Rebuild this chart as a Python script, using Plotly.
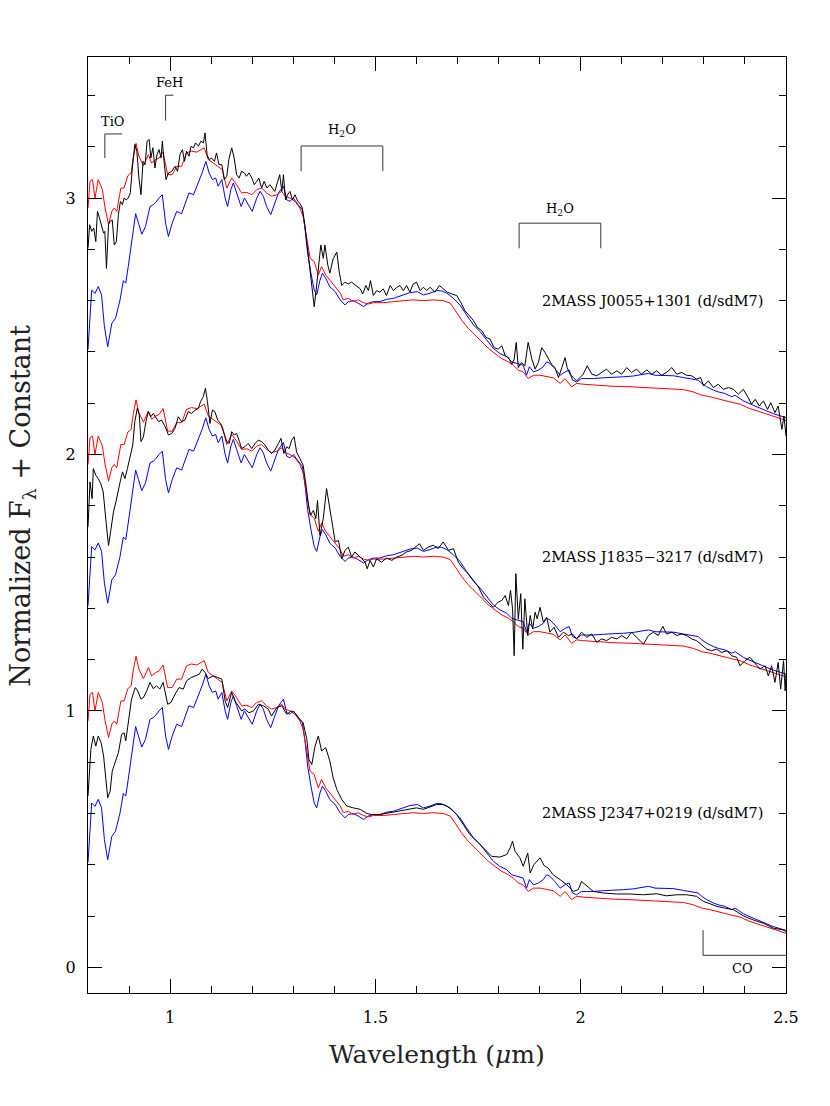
import plotly.graph_objects as go

# ---------------- data ----------------
# Comparison templates (normalized, no offset); the same templates are drawn under every object
BLUE_TEMPLATE = [
    (0.800,0.410),(0.809,0.641),(0.817,0.628),(0.825,0.655),(0.833,0.622),(0.840,0.498),(0.848,0.420),
    (0.858,0.511),(0.867,0.531),(0.878,0.602),(0.886,0.678),(0.892,0.668),(0.898,0.733),(0.906,0.824),
    (0.916,0.939),(0.923,0.902),(0.931,0.859),(0.940,0.889),(0.951,0.967),(0.959,0.974),(0.965,0.983),
    (0.973,1.000),(0.981,1.013),(0.989,0.902),(0.996,0.850),(1.005,0.902),(1.016,0.948),(1.028,0.939),
    (1.036,0.974),(1.046,1.020),(1.057,1.013),(1.069,1.059),(1.078,1.098),(1.087,1.143),(1.095,1.098),
    (1.103,1.072),(1.111,1.078),(1.117,1.046),(1.126,1.072),(1.134,1.000),(1.140,0.967),(1.148,1.033),
    (1.154,1.059),(1.162,1.020),(1.173,0.967),(1.181,1.000),(1.191,0.970),(1.200,0.948),(1.211,1.000),
    (1.219,1.026),(1.227,1.007),(1.235,0.967),(1.245,0.935),(1.254,0.974),(1.264,1.020),(1.276,1.046),
    (1.284,0.993),(1.292,0.987),(1.300,1.000),(1.312,0.974),(1.322,0.954),(1.328,0.889),(1.335,0.785),
    (1.343,0.707),(1.351,0.641),(1.357,0.622),(1.365,0.680),(1.371,0.707),(1.379,0.687),(1.389,0.654),
    (1.402,0.635),(1.414,0.603),(1.426,0.583),(1.434,0.596),(1.446,0.600),(1.458,0.590),(1.471,0.577),
    (1.483,0.590),(1.495,0.596),(1.511,0.596),(1.527,0.605),(1.544,0.609),(1.560,0.618),(1.576,0.626),
    (1.584,0.631),(1.602,0.635),(1.617,0.622),(1.633,0.629),(1.649,0.639),(1.661,0.638),(1.674,0.629),
    (1.690,0.609),(1.706,0.583),(1.722,0.544),(1.739,0.505),(1.755,0.479),(1.771,0.446),(1.787,0.414),
    (1.803,0.394),(1.820,0.381),(1.832,0.361),(1.848,0.355),(1.860,0.348),(1.868,0.309),(1.875,0.342),
    (1.885,0.322),(1.897,0.329),(1.909,0.342),(1.917,0.361),(1.925,0.355),(1.937,0.335),(1.950,0.309),
    (1.962,0.322),(1.972,0.329),(1.980,0.290),(1.990,0.283),(2.002,0.296),(2.015,0.296),(2.031,0.296),
    (2.055,0.299),(2.079,0.300),(2.104,0.303),(2.128,0.306),(2.153,0.312),(2.165,0.316),(2.181,0.309),
    (2.201,0.307),(2.226,0.307),(2.250,0.300),(2.274,0.292),(2.286,0.290),(2.295,0.277),(2.307,0.264),
    (2.323,0.251),(2.335,0.244),(2.351,0.238),(2.368,0.225),(2.376,0.231),(2.396,0.209),(2.420,0.192),
    (2.445,0.175),(2.469,0.159),(2.500,0.144),
]

RED_TEMPLATE = [
    (0.800,0.961),(0.805,1.065),(0.811,1.072),(0.817,1.000),(0.825,1.072),(0.835,1.033),(0.841,0.967),
    (0.850,0.896),(0.858,0.948),(0.864,0.961),(0.870,0.948),(0.880,1.039),(0.888,1.039),(0.897,1.087),
    (0.905,1.098),(0.910,1.156),(0.917,1.213),(0.924,1.163),(0.935,1.126),(0.947,1.169),(0.955,1.137),
    (0.965,1.150),(0.973,1.156),(0.983,1.179),(0.994,1.091),(1.005,1.091),(1.016,1.124),(1.028,1.124),
    (1.040,1.176),(1.052,1.183),(1.065,1.179),(1.073,1.186),(1.083,1.196),(1.093,1.150),(1.105,1.137),
    (1.117,1.124),(1.127,1.111),(1.138,1.039),(1.150,1.078),(1.162,1.052),(1.174,1.020),(1.187,1.022),
    (1.199,1.013),(1.211,1.033),(1.223,1.039),(1.235,1.020),(1.247,1.007),(1.260,1.013),(1.272,1.026),
    (1.280,1.007),(1.292,1.000),(1.304,0.987),(1.316,0.961),(1.324,0.928),(1.333,0.837),(1.341,0.765),
    (1.351,0.752),(1.361,0.700),(1.369,0.733),(1.379,0.700),(1.389,0.680),(1.402,0.654),(1.414,0.630),
    (1.422,0.603),(1.434,0.609),(1.446,0.596),(1.458,0.603),(1.471,0.592),(1.483,0.587),(1.495,0.592),
    (1.519,0.592),(1.544,0.596),(1.568,0.600),(1.592,0.603),(1.617,0.600),(1.641,0.603),(1.665,0.600),
    (1.682,0.590),(1.694,0.563),(1.710,0.524),(1.726,0.492),(1.743,0.466),(1.759,0.440),(1.775,0.414),
    (1.791,0.394),(1.808,0.374),(1.824,0.361),(1.836,0.348),(1.848,0.329),(1.860,0.322),(1.872,0.296),
    (1.885,0.309),(1.901,0.309),(1.917,0.305),(1.933,0.299),(1.950,0.277),(1.962,0.296),(1.978,0.264),
    (1.990,0.277),(2.006,0.274),(2.039,0.270),(2.079,0.266),(2.120,0.264),(2.153,0.261),(2.185,0.261),
    (2.218,0.258),(2.250,0.253),(2.274,0.244),(2.295,0.231),(2.315,0.225),(2.339,0.214),(2.364,0.205),
    (2.388,0.196),(2.412,0.179),(2.437,0.166),(2.461,0.153),(2.485,0.140),(2.500,0.133),
]

# Object spectra, values as plotted (normalized flux + constant)
J0055 = [
    (0.800,2.804),(0.804,2.896),(0.809,2.870),(0.814,2.883),(0.819,2.830),(0.823,2.948),(0.828,2.922),
    (0.833,2.896),(0.838,2.863),(0.841,2.870),(0.845,2.726),(0.850,2.896),(0.854,2.909),(0.859,2.915),
    (0.864,2.817),(0.869,2.830),(0.874,2.935),(0.879,2.987),(0.884,2.974),(0.888,3.000),(0.893,2.993),
    (0.898,3.000),(0.903,3.020),(0.908,3.117),(0.914,3.209),(0.919,3.183),(0.924,3.078),(0.929,3.013),
    (0.934,3.143),(0.939,3.130),(0.944,3.222),(0.949,3.228),(0.953,3.156),(0.958,3.196),(0.963,3.117),
    (0.968,3.169),(0.973,3.189),(0.978,3.156),(0.981,3.222),(0.986,3.130),(0.990,3.072),(0.996,3.098),
    (1.004,3.104),(1.012,3.124),(1.018,3.104),(1.024,3.169),(1.030,3.189),(1.035,3.143),(1.040,3.183),
    (1.046,3.163),(1.051,3.202),(1.057,3.196),(1.062,3.215),(1.069,3.202),(1.075,3.222),(1.081,3.215),
    (1.085,3.254),(1.090,3.169),(1.095,3.150),(1.101,3.156),(1.108,3.143),(1.113,3.176),(1.119,3.130),
    (1.126,3.130),(1.132,3.072),(1.138,3.085),(1.143,3.150),(1.150,3.196),(1.156,3.156),(1.162,3.091),
    (1.168,3.078),(1.174,3.104),(1.181,3.098),(1.186,3.085),(1.192,3.098),(1.199,3.078),(1.205,3.052),
    (1.211,3.065),(1.216,3.078),(1.223,3.039),(1.229,3.065),(1.236,3.039),(1.243,3.052),(1.249,3.039),
    (1.255,3.026),(1.261,3.059),(1.267,3.091),(1.272,3.026),(1.276,3.091),(1.281,2.993),(1.286,3.013),
    (1.292,3.026),(1.298,2.993),(1.304,3.013),(1.311,2.987),(1.316,2.980),(1.322,2.961),(1.328,2.896),
    (1.335,2.791),(1.341,2.713),(1.346,2.648),(1.351,2.576),(1.357,2.661),(1.363,2.752),(1.367,2.817),
    (1.373,2.765),(1.377,2.817),(1.384,2.739),(1.389,2.707),(1.397,2.763),(1.406,2.789),(1.412,2.711),
    (1.418,2.659),(1.426,2.672),(1.434,2.665),(1.442,2.672),(1.453,2.659),(1.463,2.646),(1.469,2.626),
    (1.477,2.659),(1.483,2.639),(1.488,2.678),(1.495,2.620),(1.503,2.639),(1.511,2.633),(1.519,2.646),
    (1.527,2.620),(1.536,2.659),(1.544,2.639),(1.552,2.652),(1.560,2.659),(1.568,2.639),(1.576,2.659),
    (1.584,2.633),(1.592,2.665),(1.600,2.672),(1.609,2.639),(1.617,2.652),(1.625,2.639),(1.633,2.652),
    (1.645,2.633),(1.656,2.659),(1.665,2.646),(1.675,2.633),(1.686,2.626),(1.698,2.620),(1.708,2.593),
    (1.718,2.561),(1.729,2.541),(1.739,2.522),(1.748,2.496),(1.759,2.483),(1.769,2.457),(1.779,2.450),
    (1.789,2.417),(1.799,2.411),(1.808,2.424),(1.816,2.385),(1.824,2.378),(1.832,2.352),(1.838,2.372),
    (1.843,2.437),(1.848,2.339),(1.856,2.359),(1.864,2.346),(1.872,2.437),(1.881,2.372),(1.889,2.333),
    (1.897,2.359),(1.905,2.417),(1.913,2.398),(1.921,2.372),(1.929,2.352),(1.937,2.339),(1.946,2.300),
    (1.954,2.339),(1.962,2.378),(1.967,2.339),(1.974,2.313),(1.982,2.300),(1.990,2.287),(1.998,2.300),
    (2.006,2.313),(2.016,2.346),(2.027,2.313),(2.039,2.307),(2.051,2.320),(2.063,2.333),(2.075,2.313),
    (2.088,2.326),(2.100,2.313),(2.112,2.339),(2.124,2.320),(2.136,2.333),(2.148,2.313),(2.161,2.330),
    (2.173,2.313),(2.185,2.326),(2.197,2.309),(2.209,2.320),(2.222,2.339),(2.234,2.313),(2.246,2.320),
    (2.258,2.309),(2.270,2.307),(2.282,2.294),(2.292,2.300),(2.299,2.268),(2.311,2.287),(2.323,2.261),
    (2.335,2.274),(2.347,2.254),(2.360,2.261),(2.372,2.254),(2.384,2.235),(2.396,2.254),(2.408,2.222),
    (2.416,2.196),(2.425,2.215),(2.435,2.189),(2.445,2.209),(2.455,2.176),(2.463,2.202),(2.473,2.163),
    (2.481,2.189),(2.490,2.098),(2.495,2.150),(2.500,2.072),
]

J1835 = [
    (0.800,1.717),(0.805,1.893),(0.810,1.828),(0.813,1.945),(0.819,1.919),(0.825,1.906),(0.831,1.887),
    (0.837,1.854),(0.844,1.737),(0.850,1.645),(0.855,1.698),(0.862,1.776),(0.868,1.815),(0.874,1.867),
    (0.880,1.906),(0.884,1.932),(0.890,1.906),(0.896,1.945),(0.902,1.984),(0.909,2.037),(0.914,2.128),
    (0.920,2.180),(0.925,2.154),(0.929,2.050),(0.935,2.069),(0.941,2.128),(0.947,2.167),(0.953,2.147),
    (0.959,2.160),(0.966,2.141),(0.972,2.128),(0.979,2.134),(0.988,2.108),(0.996,2.076),(1.004,2.082),
    (1.012,2.102),(1.020,2.147),(1.028,2.128),(1.036,2.134),(1.044,2.167),(1.052,2.160),(1.061,2.173),
    (1.069,2.180),(1.074,2.206),(1.081,2.226),(1.086,2.258),(1.091,2.206),(1.097,2.121),(1.103,2.173),
    (1.109,2.167),(1.116,2.134),(1.123,2.121),(1.131,2.082),(1.138,2.050),(1.144,2.043),(1.150,2.089),
    (1.156,2.076),(1.162,2.082),(1.169,2.050),(1.174,2.023),(1.182,2.030),(1.190,2.043),(1.199,2.023),
    (1.207,2.043),(1.215,2.056),(1.223,2.050),(1.231,2.037),(1.239,2.017),(1.247,2.004),(1.255,2.017),
    (1.264,2.043),(1.270,2.063),(1.277,2.004),(1.284,2.030),(1.290,2.023),(1.296,2.056),(1.302,2.069),
    (1.308,2.010),(1.316,1.984),(1.324,1.958),(1.331,1.880),(1.337,1.802),(1.342,1.763),(1.349,1.782),
    (1.355,1.750),(1.359,1.821),(1.365,1.684),(1.373,1.750),(1.381,1.867),(1.388,1.789),(1.393,1.750),
    (1.402,1.659),(1.410,1.665),(1.418,1.593),(1.426,1.626),(1.434,1.639),(1.442,1.600),(1.450,1.620),
    (1.463,1.600),(1.475,1.580),(1.480,1.554),(1.487,1.587),(1.495,1.561),(1.503,1.593),(1.515,1.580),
    (1.527,1.596),(1.540,1.587),(1.552,1.600),(1.564,1.607),(1.576,1.620),(1.588,1.626),(1.599,1.639),
    (1.607,1.652),(1.617,1.626),(1.629,1.639),(1.641,1.646),(1.653,1.633),(1.665,1.659),(1.678,1.626),
    (1.690,1.633),(1.702,1.580),(1.714,1.554),(1.726,1.535),(1.739,1.509),(1.751,1.483),(1.763,1.444),
    (1.775,1.424),(1.787,1.404),(1.799,1.424),(1.808,1.431),(1.816,1.450),(1.824,1.411),(1.829,1.470),
    (1.834,1.398),(1.838,1.215),(1.842,1.535),(1.848,1.359),(1.854,1.457),(1.859,1.241),(1.864,1.437),
    (1.871,1.294),(1.877,1.372),(1.883,1.320),(1.889,1.385),(1.894,1.359),(1.901,1.404),(1.909,1.346),
    (1.917,1.365),(1.925,1.307),(1.935,1.326),(1.946,1.287),(1.958,1.307),(1.970,1.294),(1.980,1.300),
    (1.990,1.281),(2.002,1.307),(2.015,1.287),(2.027,1.300),(2.039,1.268),(2.051,1.281),(2.063,1.274),
    (2.075,1.287),(2.088,1.281),(2.100,1.294),(2.112,1.281),(2.124,1.307),(2.136,1.287),(2.153,1.261),
    (2.165,1.294),(2.177,1.307),(2.189,1.294),(2.200,1.330),(2.209,1.300),(2.222,1.307),(2.234,1.294),
    (2.246,1.300),(2.258,1.294),(2.270,1.281),(2.282,1.274),(2.295,1.255),(2.307,1.241),(2.319,1.235),
    (2.331,1.241),(2.343,1.228),(2.356,1.235),(2.368,1.215),(2.380,1.209),(2.388,1.176),(2.400,1.196),
    (2.412,1.209),(2.425,1.183),(2.437,1.163),(2.449,1.176),(2.457,1.137),(2.465,1.176),(2.473,1.111),
    (2.481,1.189),(2.487,1.085),(2.494,1.196),(2.498,1.078),(2.500,1.144),
]

J2347 = [
    (0.800,0.668),(0.807,0.850),(0.813,0.902),(0.819,0.863),(0.825,0.902),(0.832,0.876),(0.838,0.824),
    (0.843,0.733),(0.848,0.661),(0.854,0.687),(0.859,0.765),(0.867,0.804),(0.874,0.837),(0.882,0.909),
    (0.888,0.915),(0.892,0.883),(0.898,0.954),(0.906,1.046),(0.915,1.091),(0.921,1.078),(0.929,1.046),
    (0.935,1.052),(0.943,1.078),(0.951,1.111),(0.959,1.087),(0.967,1.098),(0.975,1.085),(0.983,1.111),
    (0.994,1.026),(1.002,1.033),(1.012,1.065),(1.022,1.091),(1.032,1.085),(1.040,1.117),(1.051,1.130),
    (1.061,1.137),(1.071,1.143),(1.078,1.163),(1.085,1.150),(1.093,1.126),(1.105,1.137),(1.116,1.130),
    (1.126,1.124),(1.134,1.039),(1.140,1.013),(1.150,1.072),(1.158,1.039),(1.166,1.020),(1.174,1.000),
    (1.182,1.007),(1.192,0.993),(1.203,1.000),(1.215,1.026),(1.227,1.020),(1.239,1.007),(1.247,0.980),
    (1.260,1.013),(1.272,1.020),(1.284,0.987),(1.295,1.000),(1.304,0.993),(1.316,0.967),(1.324,0.954),
    (1.333,0.889),(1.338,0.811),(1.345,0.791),(1.353,0.863),(1.361,0.902),(1.369,0.844),(1.379,0.857),
    (1.389,0.804),(1.397,0.740),(1.406,0.694),(1.418,0.655),(1.430,0.629),(1.446,0.622),(1.463,0.616),
    (1.479,0.600),(1.491,0.596),(1.511,0.596),(1.536,0.603),(1.560,0.609),(1.584,0.616),(1.600,0.622),
    (1.617,0.616),(1.633,0.626),(1.649,0.635),(1.665,0.635),(1.682,0.622),(1.698,0.596),(1.714,0.557),
    (1.730,0.518),(1.747,0.492),(1.763,0.466),(1.783,0.433),(1.803,0.430),(1.820,0.440),(1.828,0.466),
    (1.834,0.492),(1.840,0.453),(1.852,0.427),(1.860,0.394),(1.871,0.446),(1.877,0.368),(1.886,0.401),
    (1.901,0.427),(1.911,0.397),(1.921,0.387),(1.933,0.361),(1.950,0.342),(1.966,0.322),(1.982,0.296),
    (1.994,0.303),(2.002,0.335),(2.015,0.316),(2.031,0.296),(2.055,0.290),(2.088,0.286),(2.120,0.286),
    (2.153,0.283),(2.185,0.287),(2.209,0.279),(2.234,0.283),(2.258,0.283),(2.282,0.277),(2.299,0.257),
    (2.315,0.248),(2.331,0.238),(2.351,0.231),(2.372,0.225),(2.396,0.201),(2.420,0.185),(2.445,0.172),
    (2.469,0.153),(2.493,0.146),(2.500,0.140),
]

OBJECT_SPECTRA = [J0055, J1835, J2347]
OBJECT_NAMES = ["2MASS J0055+1301 (d/sdM7)", "2MASS J1835\u22123217 (d/sdM7)", "2MASS J2347+0219 (d/sdM7)"]
OFFSETS = [2.0, 1.0, 0.0]
LABEL_LEVEL = [2.6, 1.6, 0.6]

X_TICKS = [1.0, 1.5, 2.0, 2.5]
X_TICK_TEXT = ["1", "1.5", "2", "2.5"]
Y_TICKS = [0, 1, 2, 3]
Y_TICK_TEXT = ["0", "1", "2", "3"]

# Feature markers: (label, x0, x1, y_top, y_bottom, label_x, label_y, shape)
FEATURES = [
    ("TiO", 0.841, 0.883, 3.25, 3.156, 0.862, 3.30, "corner"),
    ("FeH", 0.989, 1.008, 3.401, 3.302, 0.999, 3.45, "corner"),
    ("H<sub>2</sub>O", 1.319, 1.518, 3.203, 3.105, 1.419, 3.262, "bracket"),
    ("H<sub>2</sub>O", 1.850, 2.049, 2.902, 2.804, 1.949, 2.955, "bracket"),
]
CO_BAND = ("CO", 2.298, 2.5, 0.145, 0.047, 2.395, -0.005)

FONT = "DejaVu Serif"

# ---------------- figure ----------------
fig = go.Figure()

for spec, off in zip(OBJECT_SPECTRA, OFFSETS):
    bx = [p[0] for p in BLUE_TEMPLATE]
    by = [p[1] + off for p in BLUE_TEMPLATE]
    rx = [p[0] for p in RED_TEMPLATE]
    ry = [p[1] + off for p in RED_TEMPLATE]
    fig.add_trace(go.Scatter(x=bx, y=by, mode="lines", line=dict(color="#0000ff", width=1), showlegend=False))
    fig.add_trace(go.Scatter(x=rx, y=ry, mode="lines", line=dict(color="#ff0000", width=1), showlegend=False))
    fig.add_trace(go.Scatter(x=[p[0] for p in spec], y=[p[1] for p in spec], mode="lines",
                             line=dict(color="#000000", width=1), showlegend=False))

for name, lvl in zip(OBJECT_NAMES, LABEL_LEVEL):
    fig.add_annotation(x=2.45, y=lvl, xref="x", yref="y", text=name, showarrow=False,
                       xanchor="right", yanchor="middle", font=dict(family=FONT, size=14.5, color="black"))

line_style = dict(color="#333333", width=1)
for lab, x0, x1, ytop, ybot, lx, ly, kind in FEATURES:
    fig.add_shape(type="line", x0=x0, x1=x0, y0=ybot, y1=ytop, xref="x", yref="y", line=line_style)
    fig.add_shape(type="line", x0=x0, x1=x1, y0=ytop, y1=ytop, xref="x", yref="y", line=line_style)
    if kind == "bracket":
        fig.add_shape(type="line", x0=x1, x1=x1, y0=ybot, y1=ytop, xref="x", yref="y", line=line_style)
    fig.add_annotation(x=lx, y=ly, xref="x", yref="y", text=lab, showarrow=False,
                       xanchor="center", yanchor="middle", font=dict(family=FONT, size=13, color="black"))

lab, x0, x1, ytop, ybot, lx, ly = CO_BAND
fig.add_shape(type="line", x0=x0, x1=x0, y0=ybot, y1=ytop, xref="x", yref="y", line=line_style)
fig.add_shape(type="line", x0=x0, x1=x1, y0=ybot, y1=ybot, xref="x", yref="y", line=line_style)
fig.add_annotation(x=lx, y=ly, xref="x", yref="y", text=lab, showarrow=False,
                   xanchor="center", yanchor="middle", font=dict(family=FONT, size=13, color="black"))

# axis titles
fig.add_annotation(x=0.5, y=-0.066, xref="paper", yref="paper", text="Wavelength (<i>\u03bc</i>m)",
                   showarrow=False, xanchor="center", yanchor="middle",
                   font=dict(family=FONT, size=25, color="#222222"))
fig.add_annotation(x=-0.094, y=0.521, xref="paper", yref="paper",
                   text="Normalized F<sub>\u03bb</sub> + Constant", textangle=-90,
                   showarrow=False, xanchor="center", yanchor="middle",
                   font=dict(family=FONT, size=27, color="#222222"))

axis_common = dict(showline=True, linecolor="black", linewidth=1, mirror="ticks", ticks="inside",
                   ticklen=14, tickwidth=1, tickcolor="black", showgrid=False, zeroline=False,
                   tickfont=dict(family=FONT, size=16, color="black"))

fig.update_xaxes(range=[0.8, 2.5], tickmode="array", tickvals=X_TICKS, ticktext=X_TICK_TEXT,
                 minor=dict(tick0=0.8, dtick=0.1, ticks="inside", ticklen=7, tickwidth=1, tickcolor="black"),
                 ticklabelstandoff=10, **axis_common)
fig.update_yaxes(range=[-0.1, 3.55], tickmode="array", tickvals=Y_TICKS, ticktext=Y_TICK_TEXT,
                 minor=dict(tick0=0, dtick=0.2, ticks="inside", ticklen=7, tickwidth=1, tickcolor="black"),
                 ticklabelstandoff=8, **axis_common)

# the page body adds an 8px margin, so the plot margins are reduced by 8px on the left and top
fig.update_layout(width=830, height=1106, plot_bgcolor="white", paper_bgcolor="white",
                  margin=dict(l=80, r=52, t=49, b=121), showlegend=False)

fig.write_html("out.html")
